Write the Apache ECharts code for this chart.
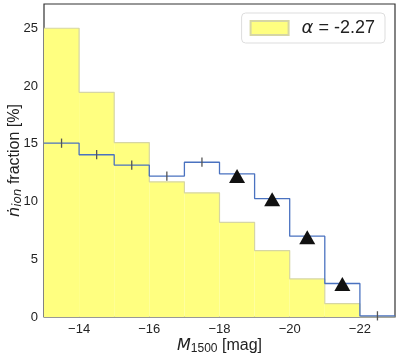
<!DOCTYPE html>
<html>
<head>
<meta charset="utf-8">
<script src="https://cdn.jsdelivr.net/npm/echarts@6/dist/echarts.min.js"></script>
<style>
  html, body { margin: 0; padding: 0; background: #fff; }
  #chart { width: 399px; height: 357px; }
</style>
</head>
<body>
<div id="chart"></div>
<script>
// bins in M1500, width 1 mag, from -13 to -23
const binStart = [-13, -14, -15, -16, -17, -18, -19, -20, -21, -22]
const binEnd = [-14, -15, -16, -17, -18, -19, -20, -21, -22, -23]
// yellow histogram (alpha = -2.27)
const histValues = [25.0, 19.45, 15.1, 11.7, 10.75, 8.2, 5.75, 3.3, 1.15, 0]
// blue step line
const stepValues = [15.05, 14.05, 13.15, 12.2, 13.4, 12.4, 10.25, 7.0, 2.9, 0.1]
// error bars at bin centres
const errCenters = [-13.5, -14.5, -15.5, -16.5, -17.5, -22.5]
const errValues = [15.05, 14.05, 13.15, 12.2, 13.4, 0.1]
const errSizes = [0.4, 0.4, 0.4, 0.4, 0.4, 0.4]
// triangle markers
const triX = [-18.5, -19.5, -20.5, -21.5]
const triY = [12.2, 10.2, 6.9, 2.85]
const xTicks = [-14, -16, -18, -20, -22]

let myEcharts = echarts.init(document.getElementById('chart'))

const histData = binStart.map((s, i) => [s, binEnd[i], histValues[i]])
const histEdge = binStart.map((s, i) => [s, histValues[i]])
histEdge.push([binEnd[binEnd.length - 1], histValues[histValues.length - 1]])
const stepData = binStart.map((s, i) => [s, stepValues[i]])
stepData.push([binEnd[binEnd.length - 1], stepValues[stepValues.length - 1]])
const errData = errCenters.map((c, i) => [c, errValues[i], errSizes[i]])
const triData = triX.map((x, i) => [x, triY[i]])

const font = 'Liberation Sans, Arial, sans-serif'

const options = {
  animation: false,
  grid: {
    left: 44, right: 4, top: 4, bottom: 40,
    containLabel: false, outerBoundsMode: 'none',
    show: true, borderColor: '#333', borderWidth: 1.2, backgroundColor: 'transparent'
  },
  legend: {
    right: 14, top: 13,
    padding: [6, 10, 6, 8],
    borderColor: '#ddd', borderWidth: 1, borderRadius: 4,
    itemWidth: 38, itemHeight: 14, itemGap: 10,
    data: [{ name: 'hist', icon: 'rect' }],
    formatter: () => '{a|α} = -2.27',
    textStyle: {
      fontFamily: font, fontSize: 18, color: '#222', padding: [0, 0, 0, 8],
      rich: { a: { fontFamily: 'DejaVu Sans', fontStyle: 'italic', fontSize: 18, color: '#222' } }
    }
  },
  xAxis: {
    type: 'value', min: -23, max: -13, inverse: true,
    name: '{m|M}{s|1500} [mag]',
    nameLocation: 'middle', nameGap: 19, nameMoveOverlap: false,
    nameTextStyle: {
      fontFamily: font, fontSize: 16, color: '#222',
      rich: {
        m: { fontFamily: 'DejaVu Sans', fontStyle: 'italic', fontSize: 16, color: '#222' },
        s: { fontFamily: font, fontSize: 12, color: '#222', padding: [7, 0, 0, 0] }
      }
    },
    axisLine: { show: false },
    axisTick: { show: false },
    splitLine: { show: false },
    axisLabel: {
      customValues: xTicks,
      formatter: v => String(v).replace('-', '\u2212'),
      fontFamily: font, fontSize: 13, color: '#222', margin: 6
    }
  },
  yAxis: {
    type: 'value', min: 0, max: 27.1, interval: 5,
    name: '{n|ṅ}{s|ion} fraction [%]',
    nameLocation: 'middle', nameGap: 20, nameRotate: 90, nameMoveOverlap: false,
    nameTextStyle: {
      fontFamily: font, fontSize: 16, color: '#222',
      rich: {
        n: { fontFamily: 'DejaVu Sans', fontStyle: 'italic', fontSize: 16, color: '#222' },
        s: { fontFamily: 'DejaVu Sans', fontStyle: 'italic', fontSize: 12, color: '#222', padding: [7, 0, 0, 0] }
      }
    },
    axisLine: { show: false },
    axisTick: { show: false },
    splitLine: { show: false },
    axisLabel: { showMaxLabel: false, fontFamily: font, fontSize: 13, color: '#222', margin: 6 }
  },
  series: [
    {
      // 黄色直方图
      name: 'hist', type: 'custom',
      itemStyle: { color: '#ffff80', borderColor: '#d6d6a4', borderWidth: 1 },
      renderItem: (params, api) => {
        const p0 = api.coord([api.value(0), api.value(2)])
        const p1 = api.coord([api.value(1), 0])
        return {
          type: 'rect',
          shape: { x: p0[0], y: p0[1], width: p1[0] - p0[0], height: p1[1] - p0[1] },
          style: { fill: '#ffff80', stroke: null }
        }
      },
      encode: { x: [0, 1], y: 2 },
      data: histData,
      z: 1
    },
    {
      // 直方图外轮廓
      name: 'histEdge', type: 'line', step: 'end',
      showSymbol: false, silent: true,
      lineStyle: { color: '#d6d6a4', width: 1.2 },
      data: histEdge,
      z: 2
    },
    {
      // 蓝色阶梯线
      name: 'step', type: 'line', step: 'end',
      showSymbol: false,
      lineStyle: { color: '#4a72c0', width: 1.3 },
      data: stepData,
      z: 3
    },
    {
      // 误差棒
      name: 'err', type: 'custom',
      renderItem: (params, api) => {
        const a = api.coord([api.value(0), api.value(1) + api.value(2)])
        const b = api.coord([api.value(0), api.value(1) - api.value(2)])
        return {
          type: 'line',
          shape: { x1: a[0], y1: a[1], x2: b[0], y2: b[1] },
          style: { stroke: '#555', lineWidth: 1.3 }
        }
      },
      encode: { x: 0, y: 1 },
      data: errData,
      z: 4
    },
    {
      // 三角形
      name: 'tri', type: 'scatter',
      symbol: 'triangle', symbolSize: [16, 14],
      itemStyle: { color: '#111', opacity: 1 },
      data: triData,
      z: 5
    }
  ]
}
options && myEcharts.setOption(options)
</script>
</body>
</html>
